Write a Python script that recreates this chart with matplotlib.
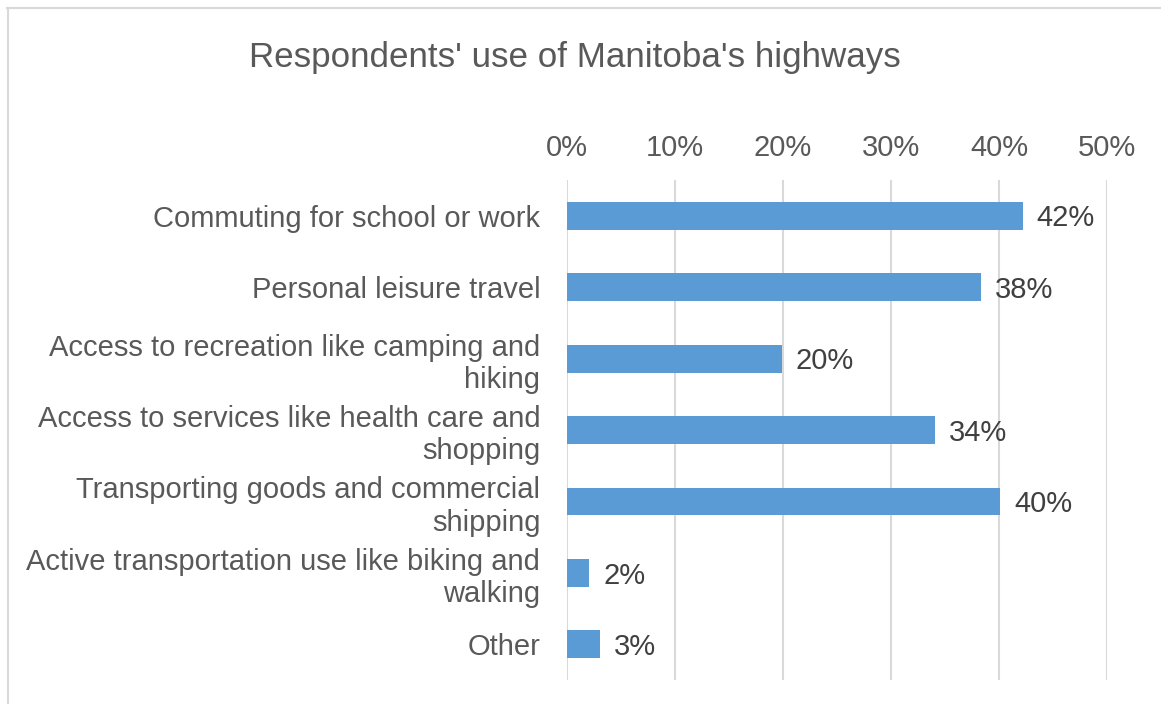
import matplotlib
matplotlib.use("Agg")
import matplotlib.pyplot as plt
from matplotlib.lines import Line2D
from matplotlib.ticker import FuncFormatter

plt.rcParams['font.family'] = ['Liberation Sans', 'DejaVu Sans']

title = "Respondents' use of Manitoba's highways"
categories = [
    "Commuting for school or work",
    "Personal leisure travel",
    "Access to recreation like camping and\nhiking",
    "Access to services like health care and\nshopping",
    "Transporting goods and commercial\nshipping",
    "Active transportation use like biking and\nwalking",
    "Other",
]
shares = [42.2, 38.3, 19.9, 34.1, 40.1, 2.1, 3.1]
x_ticks = [0, 10, 20, 30, 40, 50]

BAR = "#5B9BD5"
GRID = "#D9D9D9"
TEXT = "#595959"
LABEL = "#404040"
FS = 21

W, H = 1161, 704
fig = plt.figure(figsize=(W / 100, H / 100), dpi=100)
ax = fig.add_axes([566.7 / W, 1 - 680 / H, (1107 - 566.7) / W, 500 / H])

ypos = list(range(len(categories)))
ax.barh(ypos, shares, height=0.39, color=BAR, zorder=3)
ax.set_ylim(len(categories) - 0.5, -0.5)
ax.set_xlim(0, 50)

ax.set_yticks(ypos)
ax.set_yticklabels(categories, fontsize=FS, color=TEXT)
ax.set_xticks(x_ticks)
ax.xaxis.set_major_formatter(FuncFormatter(lambda v, _: f"{v:.0f}%"))
ax.xaxis.tick_top()
ax.tick_params(axis='x', length=0, pad=13, labelsize=FS, labelcolor=TEXT)
ax.tick_params(axis='y', length=0, pad=19)
ax.grid(axis='x', color=GRID, linewidth=1.5, zorder=0)
for s in ax.spines.values():
    s.set_visible(False)

for y, v in zip(ypos, shares):
    ax.annotate(f"{v:.0f}%", xy=(v, y), xytext=(10, -2), textcoords='offset points',
                va='center', ha='left', fontsize=FS, color=LABEL)

fig.text(575 / W, 1 - 58 / H, title, ha='center', va='center', fontsize=25.2, color=TEXT)

# chart frame (top and left edges)
fig.add_artist(Line2D([7 / W, 1.0], [1 - 7.5 / H, 1 - 7.5 / H], transform=fig.transFigure,
                      color=GRID, linewidth=1.5))
fig.add_artist(Line2D([7.5 / W, 7.5 / W], [0.0, 1 - 7.5 / H], transform=fig.transFigure,
                      color=GRID, linewidth=1.5))

fig.savefig("out.png", dpi=100)
